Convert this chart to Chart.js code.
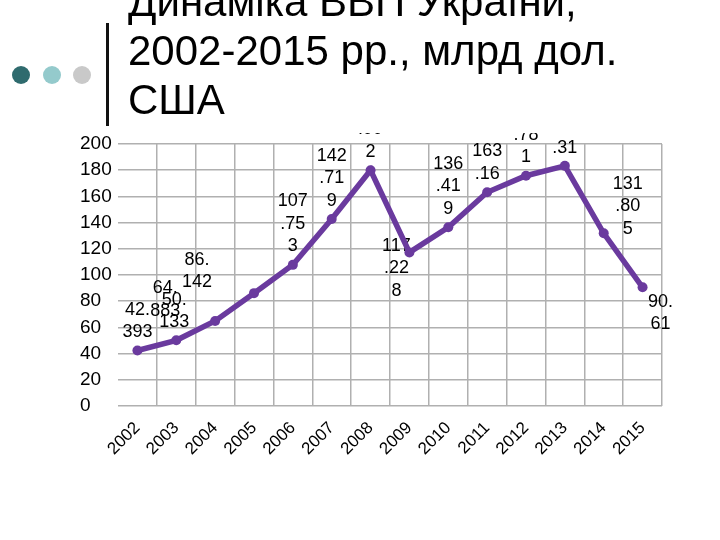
<!DOCTYPE html>
<html><head><meta charset="utf-8">
<script src="https://cdn.jsdelivr.net/npm/chart.js@4"></script>
<style>
html,body{margin:0;padding:0;background:#fff;}
body{width:720px;height:540px;position:relative;overflow:hidden;font-family:"Liberation Sans",Arial,sans-serif;}
#wrap{position:absolute;left:0;top:0;width:720px;height:540px;}
.dot{position:absolute;width:18px;height:18px;border-radius:50%;top:66px;}
#vline{position:absolute;left:106px;top:23px;width:3px;height:103px;background:#111;}
#title{position:absolute;left:128px;top:-23px;font-size:42px;line-height:49px;color:#000;white-space:nowrap;}
</style></head>
<body>
<div id="wrap"><canvas id="c" width="720" height="540"></canvas></div>
<div class="dot" style="left:12px;background:#2f6b6e"></div>
<div class="dot" style="left:43px;background:#94cacc"></div>
<div class="dot" style="left:73px;background:#c9c9c9"></div>
<div id="vline"></div>
<div id="title">Динаміка ВВП України,<br>2002-2015 рр., млрд дол.<br>США</div>
<script>
const years = ['2002','2003','2004','2005','2006','2007','2008','2009','2010','2011','2012','2013','2014','2015'];
const gdp = [42.393, 50.133, 64.883, 86.142, 107.753, 142.719, 179.992, 117.228, 136.419, 163.16, 175.781, 183.31, 131.805, 90.61];
const yMin = 0, yMax = 200, yStep = 20;

// label block centre offsets relative to the point (layout only)
const labelShift = [[0,-29.5],[-2,-29.5],[-50,-21.5],[-57,-22],[0,-41],[0,-41],[0,-41],[-13,16],[0,-41],[0,-29.5],[0,-41],[0,-29.5],[24,-27],[18,25.5]];

const FONT = '"Liberation Sans", Arial, sans-serif';
const purple = '#6a3a9e';
const gridColor = '#b0b0b0';
const LH = 22.5;

function chunk(s){ const out=[]; for(let i=0;i<s.length;i+=3) out.push(s.slice(i,i+3)); return out; }

const labelPlugin = {
  id: 'valueLabels',
  beforeDatasetsDraw(chart){
    const ctx = chart.ctx;
    const meta = chart.getDatasetMeta(0);
    ctx.save();
    ctx.beginPath(); ctx.rect(0,133,672,407); ctx.clip();
    ctx.font = '18px ' + FONT;
    ctx.fillStyle = '#000';
    ctx.textAlign = 'center';
    ctx.textBaseline = 'middle';
    meta.data.forEach((pt,i)=>{
      const lines = chunk(String(gdp[i]));
      const [dx,dy] = labelShift[i];
      const n = lines.length;
      lines.forEach((t,j)=>ctx.fillText(t, pt.x+dx, pt.y+dy+(j-(n-1)/2)*LH));
    });
    ctx.restore();
  }
};

new Chart(document.getElementById('c'), {
  type: 'line',
  data: { labels: years, datasets: [{ data: gdp, borderColor: purple, backgroundColor: purple,
    borderWidth: 5.5, pointRadius: 5, pointBackgroundColor: purple, pointBorderColor: purple,
    pointBorderWidth: 0, tension: 0, fill: false }] },
  options: {
    responsive: false, animation: false,
    layout: { padding: { left: 80, right: 58, top: 144, bottom: 54 } },
    plugins: { legend: { display: false }, tooltip: { enabled: false } },
    scales: {
      x: {
        offset: true,
        grid: { offset: true, drawTicks: false, lineWidth: 1.5,
          color: c => (c.index === 0 || c.index === years.length) ? 'rgba(0,0,0,0)' : gridColor },
        border: { display: false },
        ticks: { minRotation: 45, maxRotation: 45, autoSkip: false, padding: 12, color: '#000', font: { family: FONT, size: 17 } },
        afterFit: s => { s.height = 80; }
      },
      y: {
        min: yMin, max: yMax,
        ticks: { stepSize: yStep, color: '#000', crossAlign: 'far', padding: 6, font: { family: FONT, size: 19 } },
        grid: { drawTicks: false, color: gridColor, lineWidth: 1.5 },
        border: { display: false },
        afterFit: s => { s.width = 38; }
      }
    }
  },
  plugins: [labelPlugin]
});
</script>
</body></html>
